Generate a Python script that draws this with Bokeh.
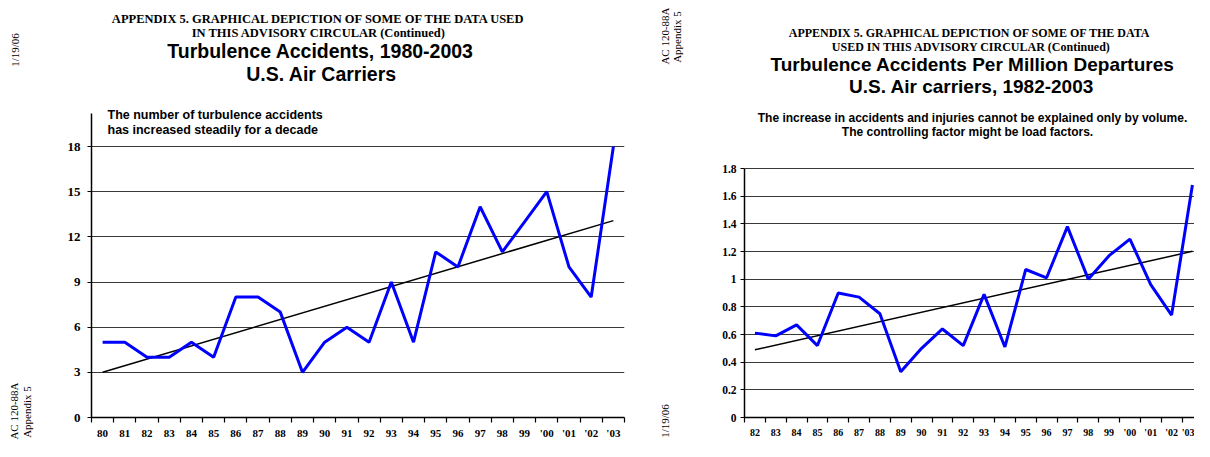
import numpy as np
from bokeh.plotting import figure
from bokeh.models import FixedTicker, Range1d, NumeralTickFormatter, Div
from bokeh.layouts import row
from bokeh.embed import file_html
from bokeh.resources import INLINE
from bokeh.core.properties import value

# ---------------- data ----------------
years_a = list(range(1980, 2004))
accidents = [5, 5, 4, 4, 5, 4, 8, 8, 7, 3, 5, 6, 5, 9, 5, 11, 10, 14, 11, 13, 15, 10, 8, 18]
yticks_a = [0, 3, 6, 9, 12, 15, 18]

years_b = list(range(1982, 2004))
rate = [0.61, 0.59, 0.67, 0.52, 0.90, 0.87, 0.75, 0.33, 0.50, 0.64, 0.52,
        0.89, 0.51, 1.07, 1.01, 1.38, 1.00, 1.17, 1.29, 0.96, 0.74, 1.68]
yticks_b = [0, 0.2, 0.4, 0.6, 0.8, 1.0, 1.2, 1.4, 1.6, 1.8]


def year_label(y):
    return str(y % 100) if y < 2000 else "'%02d" % (y % 100)


SERIF = "Liberation Serif"
SANS = "Liberation Sans"
BLUE = "#0000FF"
GRID = "#3a3a3a"
H = 441
BOTTOM = 24
FRAME_BOTTOM = H - BOTTOM  # 417


def make_fig(width, fl, fr, x_range, y_range):
    p = figure(width=width, height=H, x_range=x_range, y_range=y_range,
               output_backend="svg", toolbar_location=None,
               min_border_left=fl, min_border_right=fr,
               min_border_top=0, min_border_bottom=BOTTOM)
    p.outline_line_color = None
    p.background_fill_color = "white"
    p.border_fill_color = "white"
    p.xgrid.grid_line_color = None
    p.ygrid.grid_line_color = GRID
    p.ygrid.grid_line_width = 1.2
    return p


def style_axes(p, years, yticks, ybounds, ysize, xsize, ystandoff, xstandoff):
    p.xaxis.ticker = FixedTicker(ticks=years,
                                 minor_ticks=[y - 0.5 for y in years] + [years[-1] + 0.5])
    p.xaxis.major_label_overrides = {y: year_label(y) for y in years}
    p.xaxis.major_tick_line_color = None
    p.xaxis.major_tick_out = 0
    p.xaxis.major_tick_in = 0
    p.xaxis.minor_tick_line_color = "black"
    p.xaxis.minor_tick_line_width = 1.2
    p.xaxis.minor_tick_out = 5
    p.xaxis.minor_tick_in = 0
    p.xaxis.major_label_standoff = xstandoff
    p.xaxis.major_label_text_font = SERIF
    p.xaxis.major_label_text_font_style = "bold"
    p.xaxis.major_label_text_font_size = xsize
    p.xaxis.major_label_text_color = "black"

    p.yaxis.ticker = FixedTicker(ticks=yticks)
    p.yaxis.bounds = ybounds
    p.yaxis.major_tick_out = 4
    p.yaxis.major_tick_in = 0
    p.yaxis.major_tick_line_color = "black"
    p.yaxis.minor_tick_line_color = None
    p.yaxis.major_label_standoff = ystandoff
    p.yaxis.major_label_text_font = SERIF
    p.yaxis.major_label_text_font_style = "bold"
    p.yaxis.major_label_text_font_size = ysize
    p.yaxis.major_label_text_color = "black"
    for ax in (p.xaxis, p.yaxis):
        ax.axis_line_color = "black"
        ax.axis_line_width = 1.5


def strip(width, items):
    spans = []
    for (x, y, t) in items:
        spans.append(
            '<span style="position:absolute;left:%dpx;top:%dpx;white-space:nowrap;'
            'transform:translate(-50%%,-50%%) rotate(-90deg);font-family:\'Liberation Serif\';'
            'font-size:11px;color:#000;line-height:1;">%s</span>' % (x, y, t))
    html = ('<div style="position:relative;width:%dpx;height:%dpx;overflow:hidden;">%s</div>'
            % (width, H, "".join(spans)))
    return Div(text=html, width=width, height=H, margin=0)


def text_at(p, conv, pts, texts, size, font, align="center", style="bold"):
    xs, ys = zip(*[conv(a, b) for a, b in pts])
    p.text(x=list(xs), y=list(ys), text=texts, text_font=value(font), text_font_size=size,
           text_font_style=style, text_align=align, text_baseline="middle", text_color="black")


# ---------------- left chart ----------------
S1 = 40                      # width of left side strip
FL1 = 91 - S1                # frame left at page x = 91
PX1 = 533 / 24               # pixels per year
PY1 = (FRAME_BOTTOM - 146) / 18
W1 = 632 - S1
p1 = make_fig(W1, FL1, W1 - FL1 - 533, Range1d(1979.5, 2003.5), Range1d(0, FRAME_BOTTOM / PY1))
style_axes(p1, years_a, yticks_a, (0, (FRAME_BOTTOM - 113) / PY1), "13px", "11px", 7, 4)

xa = np.array(years_a, dtype=float)
ka, ba = np.polyfit(xa - xa[0], np.array(accidents, dtype=float), 1)
p1.line([years_a[0], years_a[-1]], [ba, ba + ka * (xa[-1] - xa[0])],
        line_color="black", line_width=1.5)
p1.line(years_a, accidents, line_color=BLUE, line_width=3)


def c1(px, py):
    return 1979.5 + (px - 91) / PX1, (FRAME_BOTTOM - py) / PY1


text_at(p1, c1, [(320, 18), (320, 32)],
        ["APPENDIX 5.  GRAPHICAL DEPICTION OF SOME OF THE DATA USED",
         "IN THIS ADVISORY CIRCULAR  (Continued)"], "12.5px", SERIF)
text_at(p1, c1, [(320, 50), (321, 73)],
        ["Turbulence Accidents, 1980-2003", "U.S. Air Carriers"], "19.5px", SANS)
text_at(p1, c1, [(107, 114), (107, 129)],
        ["The number of turbulence accidents", "has increased steadily for a decade"],
        "12.5px", SANS, align="left")

# ---------------- right chart ----------------
S2_X0 = 632
S2 = 58
X2 = S2_X0 + S2              # page x where right figure begins (690)
FL2 = 744 - X2
W2 = 1194 - X2
PX2 = 450 / 21.6
PY2 = (FRAME_BOTTOM - 168) / 1.8
p2 = make_fig(W2, FL2, 0, Range1d(1981.5, 1981.5 + (W2 - FL2) / PX2), Range1d(0, FRAME_BOTTOM / PY2))
style_axes(p2, years_b, yticks_b, (0, 1.8), "11.5px", "10px", 4, 4)
p2.yaxis.formatter = NumeralTickFormatter(format="0.[0]")

xb = np.array(years_b, dtype=float)
kb, bb = np.polyfit(xb - xb[0], np.array(rate, dtype=float), 1)
p2.line([years_b[0], years_b[-1]], [bb, bb + kb * (xb[-1] - xb[0])],
        line_color="black", line_width=1.5)
p2.line(years_b, rate, line_color=BLUE, line_width=3)


def c2(px, py):
    return 1981.5 + (px - 744) / PX2, (FRAME_BOTTOM - py) / PY2


text_at(p2, c2, [(971, 32), (971, 46)],
        ["APPENDIX 5.  GRAPHICAL DEPICTION OF SOME OF THE DATA",
         "USED IN THIS ADVISORY CIRCULAR (Continued)"], "12px", SERIF)
text_at(p2, c2, [(972, 64), (971, 86)],
        ["Turbulence Accidents Per Million Departures", "U.S. Air carriers, 1982-2003"],
        "19px", SANS)
text_at(p2, c2, [(972, 117), (967, 131)],
        ["The increase in accidents and injuries cannot be explained only by volume.",
         "The controlling factor might be load factors."], "12px", SANS)

# ---------------- side strips ----------------
strip1 = strip(S1, [(15, 50, "1/19/06"), (14, 411, "AC 120-88A"), (27, 412, "Appendix 5")])
strip2 = strip(S2, [(665 - S2_X0, 36, "AC 120-88A"), (677 - S2_X0, 37, "Appendix 5"),
                    (665 - S2_X0, 421, "1/19/06")])

layout = row(strip1, p1, strip2, p2)
open("out.html", "w").write(file_html(layout, INLINE))
